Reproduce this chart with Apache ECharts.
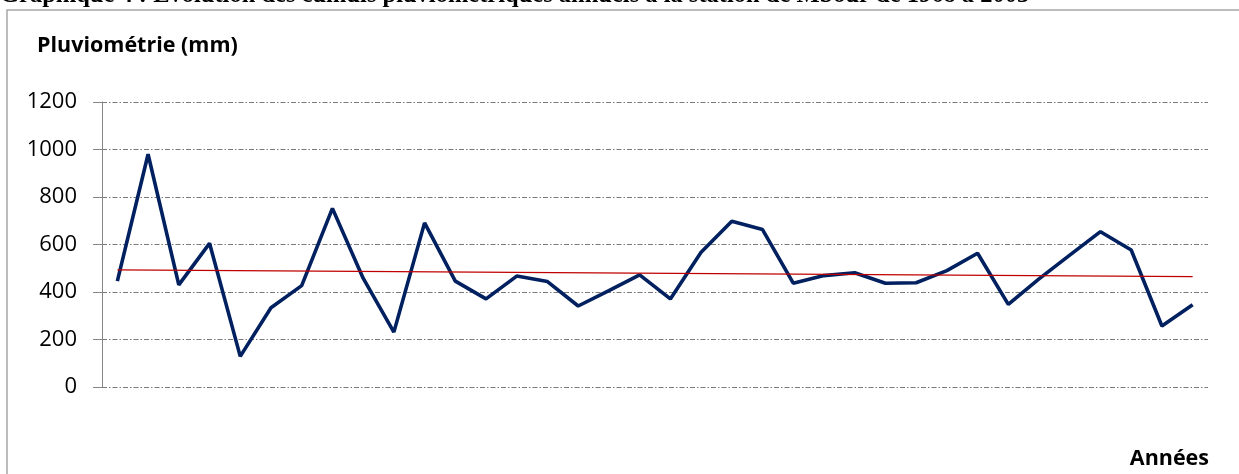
<!DOCTYPE html>
<html>
<head>
<meta charset="utf-8">
<script src="https://cdn.jsdelivr.net/npm/echarts@6/dist/echarts.min.js"></script>
<style>
  html, body { margin: 0; padding: 0; background: #fff; }
  #main { width: 1239px; height: 474px; }
</style>
</head>
<body>
<div id="main"></div>
<script>
// données
const annees = [];
for (let a = 1968; a <= 2003; a++) annees.push(String(a));

const pluie = [446, 980, 430, 605, 129, 334, 427, 752, 458, 231,
               691, 446, 371, 467, 444, 341, 406, 472, 371, 567,
               698, 663, 437, 469, 481, 437, 439, 490, 563, 348,
               455, 555, 654, 577, 257, 346];

// tendance (début / fin)
const tendance = [493, 465];

const yTicks = [0, 200, 400, 600, 800, 1000, 1200];

let myChart = echarts.init(document.getElementById('main'));

const gridStyle = {
    color: '#7a7a7a',
    width: 1.2,
    type: [5, 2, 1.5, 2]
};

option = {
    backgroundColor: '#fff',
    animation: false,
    graphic: [
        {
            type: 'rect',
            shape: { x: 7, y: 10, width: 1300, height: 500 },
            style: { fill: 'none', stroke: '#a6a6a6', lineWidth: 1.5 },
            silent: true
        },
        {
            type: 'text',
            left: 0,
            top: -17,
            style: {
                text: 'Graphique 4 : Evolution des cumuls pluviométriques annuels à la station de Mbour de 1968 à 2003',
                font: 'bold 24.5px "Liberation Serif"',
                fill: '#000'
            }
        },
        {
            type: 'text',
            left: 37,
            top: 35,
            style: {
                text: 'Pluviométrie (mm)',
                font: 'bold 21.5px "Open Sans"',
                fill: '#000'
            }
        },
        {
            type: 'text',
            right: 30,
            top: 448,
            style: {
                text: 'Années',
                font: 'bold 21.5px "Open Sans"',
                fill: '#000'
            }
        }
    ],
    grid: {
        left: 102,
        right: 31,
        top: 102,
        bottom: 87
    },
    xAxis: {
        type: 'category',
        data: annees,
        boundaryGap: true,
        axisLine: { show: false },
        axisTick: { show: false },
        axisLabel: { show: false }
    },
    yAxis: {
        type: 'value',
        min: yTicks[0],
        max: yTicks[yTicks.length - 1],
        interval: 200,
        axisLine: { show: true, lineStyle: { color: '#868686', width: 1 } },
        axisTick: { show: true, inside: false, length: 9, lineStyle: { color: '#868686' } },
        axisLabel: {
            margin: 25,
            color: '#000',
            fontSize: 22,
            fontFamily: 'Open Sans',
            formatter: v => String(v)
        },
        splitLine: { show: true, lineStyle: gridStyle }
    },
    series: [
        {
            name: 'Pluviométrie',
            type: 'line',
            data: pluie,
            symbol: 'none',
            lineStyle: { color: '#002060', width: 3.6 },
            z: 3,
            markLine: {
                silent: true,
                symbol: 'none',
                label: { show: false },
                lineStyle: { color: '#c00000', width: 1.3, type: 'solid' },
                data: [[
                    { coord: [0, tendance[0]] },
                    { coord: [annees.length - 1, tendance[1]] }
                ]]
            }
        }
    ]
};

myChart.setOption(option);
</script>
</body>
</html>
